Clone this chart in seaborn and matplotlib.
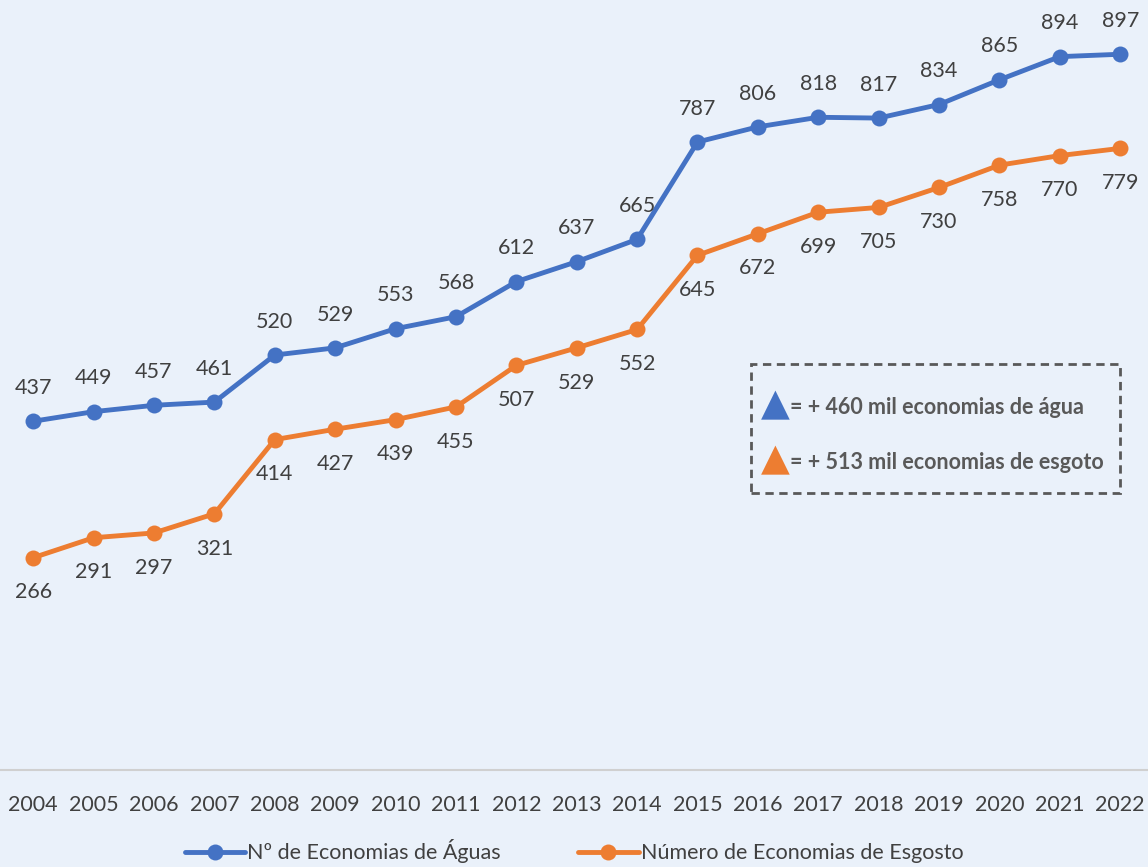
import numpy as np
import pandas as pd
import matplotlib
matplotlib.use("Agg")
import matplotlib.pyplot as plt
import seaborn as sns
from matplotlib.patches import Rectangle
from matplotlib.ticker import FixedLocator

anos = [str(a) for a in range(2004, 2023)]
agua = [437, 449, 457, 461, 520, 529, 553, 568, 612, 637, 665, 787, 806, 818, 817, 834, 865, 894, 897]
esgoto = [266, 291, 297, 321, 414, 427, 439, 455, 507, 529, 552, 645, 672, 699, 705, 730, 758, 770, 779]
series = ["Nº de Economias de Águas", "Número de Economias de Esgosto"]
cores = ["#4472C4", "#ED7D31"]

df = pd.DataFrame({
    "ano": anos * 2,
    "valor": agua + esgoto,
    "serie": [series[0]] * len(anos) + [series[1]] * len(anos),
})

sns.set_theme(style="white")
plt.rcParams["font.family"] = ["Lato", "DejaVu Sans"]
fundo = "#EAF1FA"
texto = "#404040"

fig = plt.figure(figsize=(11.48, 8.67), dpi=100, facecolor=fundo)
ax = fig.add_axes([0.0, 0.112, 1.0, 0.888])
ax.set_facecolor(fundo)

sns.lineplot(data=df, x="ano", y="valor", hue="serie", palette=cores,
             marker="o", markersize=11.5, markeredgewidth=0, linewidth=3.5,
             ax=ax, sort=False)

ax.set_xlim(-0.55, len(anos) - 0.54)
ax.set_ylim(0, 965)
ax.set_xlabel("")
ax.set_ylabel("")
ax.set_yticks([])
for s in ["top", "right", "left"]:
    ax.spines[s].set_visible(False)
ax.spines["bottom"].set_color("#D0D0D0")
ax.spines["bottom"].set_linewidth(1.5)
ax.tick_params(axis="x", which="major", length=0, pad=18, labelsize=15.5, labelcolor=texto)
ax.xaxis.set_minor_locator(FixedLocator(np.arange(-0.5, len(anos), 1.0)))
ax.tick_params(axis="x", which="minor", length=7, width=1.5, color="#D0D0D0")

for i, v in enumerate(agua):
    ax.annotate(str(v), (i, v), xytext=(0, 24), textcoords="offset points",
                ha="center", va="center", fontsize=15.5, color=texto)
for i, v in enumerate(esgoto):
    ax.annotate(str(v), (i, v), xytext=(0, -25), textcoords="offset points",
                ha="center", va="center", fontsize=15.5, color=texto)

leg = ax.legend(loc="center", bbox_to_anchor=(0.5, 0.018), bbox_transform=fig.transFigure,
                ncol=2, frameon=False, fontsize=15.5, handlelength=2.8, handletextpad=0.1,
                columnspacing=3.6, labelcolor=texto, borderaxespad=0, borderpad=0)

# caixa de destaque
fig.patches.append(Rectangle((0.654, 0.431), 0.322, 0.149, transform=fig.transFigure,
                             fill=False, edgecolor="#595959", linestyle=(0, (3, 2)),
                             linewidth=2))
fig.text(0.663, 0.532, "▲", color=cores[0], fontsize=27, va="center", family="DejaVu Sans")
fig.text(0.688, 0.530, "= + 460 mil economias de água", color="#595959", fontsize=15.5,
         fontweight="bold", va="center")
fig.text(0.663, 0.469, "▲", color=cores[1], fontsize=27, va="center", family="DejaVu Sans")
fig.text(0.688, 0.467, "= + 513 mil economias de esgoto", color="#595959", fontsize=15.5,
         fontweight="bold", va="center")

fig.savefig("out.png", dpi=100, facecolor=fundo)
